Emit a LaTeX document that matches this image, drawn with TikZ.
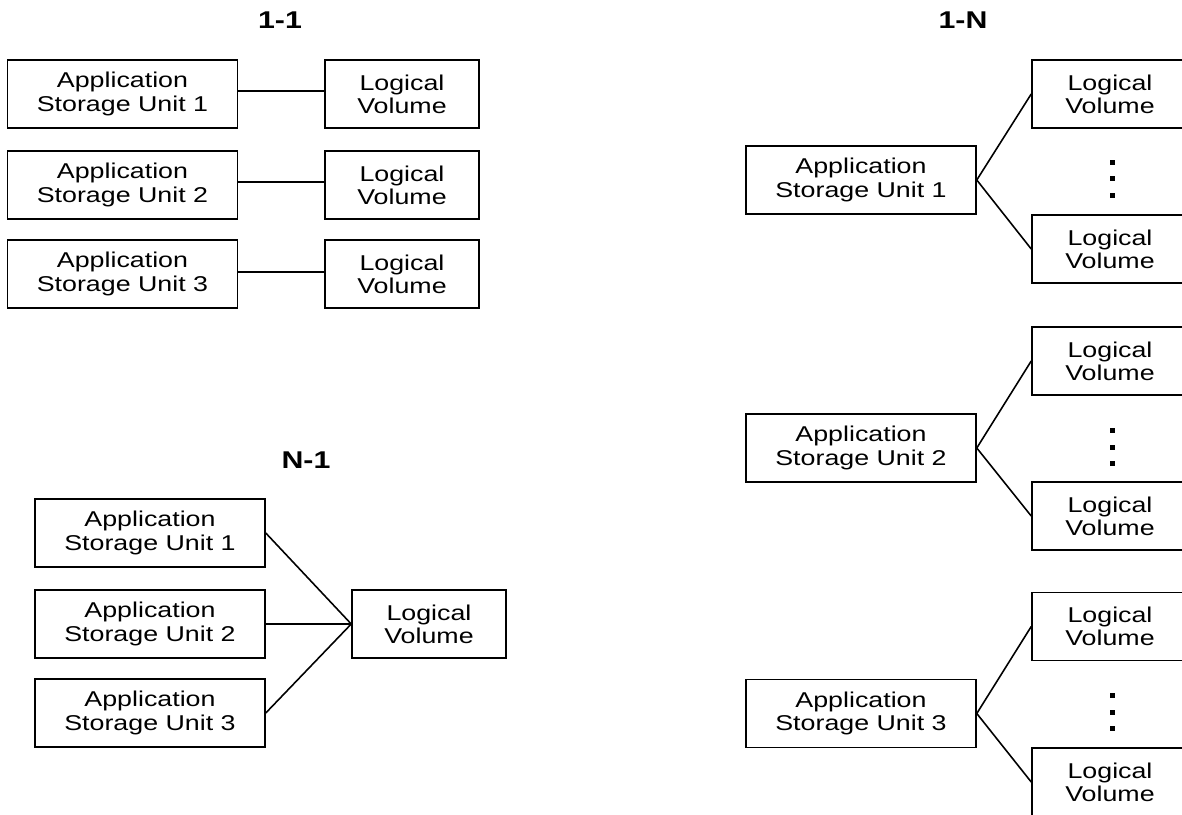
\documentclass[tikz,border=0pt]{standalone}
\usepackage{fontspec}
\setmainfont[FakeStretch=1.25]{Liberation Sans}
\begin{document}
\begin{tikzpicture}[x=0.02cm,y=-0.02cm,
  box/.style={draw, line width=0.9pt, inner sep=0pt, align=center,
    minimum height=1.36cm, font=\fontsize{12.2}{13.2}\selectfont},
  app/.style={box, minimum width=4.6cm},
  lv/.style={box, minimum width=3.08cm},
  lvn/.style={box, minimum width=3.12cm},
  ttl/.style={font=\fontsize{13.8}{15}\selectfont\bfseries, inner sep=0pt},
  link/.style={line width=0.9pt}]
\useasboundingbox (0,0) rectangle (1182,814);
\clip (0,0) rectangle (1182,814);
% ---- 1-1 ----
\node[ttl] (t11) at (280,20) {1-1};
\node[app] (a1) at (122.5,94) {Application\\Storage Unit 1};
\node[app] (a2) at (122.5,185) {Application\\Storage Unit 2};
\node[app] (a3) at (122.5,274) {Application\\Storage Unit 3};
\node[lv] (l1) at (402,94) {Logical\\Volume};
\node[lv] (l2) at (402,185) {Logical\\Volume};
\node[lv] (l3) at (402,274) {Logical\\Volume};
\draw[link] ([yshift=1.8pt]a1.east) -- ([yshift=1.8pt]l1.west);
\draw[link] ([yshift=1.7pt]a2.east) -- ([yshift=1.7pt]l2.west);
\draw[link] ([yshift=1.1pt]a3.east) -- ([yshift=1.1pt]l3.west);
% ---- N-1 ----
\node[ttl] (tn1) at (306,460) {N-1};
\node[app] (c1) at (150,533) {Application\\Storage Unit 1};
\node[app] (c2) at (150,624) {Application\\Storage Unit 2};
\node[app] (c3) at (150,713) {Application\\Storage Unit 3};
\node[lv] (cl) at (429,624) {Logical\\Volume};
\draw[link] (c1.east) -- (cl.west);
\draw[link] (c2.east) -- (cl.west);
\draw[link] (c3.east) -- (cl.west);
% ---- 1-N ----
\node[ttl] (t1n) at (963,20) {1-N};
\node[app] (b1) at (861,180) {Application\\Storage Unit 1};
\node[lvn] (b1u) at (1110,94) {Logical\\Volume};
\node[lvn] (b1d) at (1110,249) {Logical\\Volume};
\draw[link] (b1u.west) -- (b1.east) -- (b1d.west);
\node[app] (b2) at (861,448) {Application\\Storage Unit 2};
\node[lvn] (b2u) at (1110,361) {Logical\\Volume};
\node[lvn] (b2d) at (1110,516) {Logical\\Volume};
\draw[link] (b2u.west) -- (b2.east) -- (b2d.west);
\node[app] (b3) at (861,713.5) {Application\\Storage Unit 3};
\node[lvn] (b3u) at (1110,626.5) {Logical\\Volume};
\node[lvn] (b3d) at (1110,782) {Logical\\Volume};
\draw[link] (b3u.west) -- (b3.east) -- (b3d.west);
% vertical dots
\foreach \cy in {179,447,712}{
  \foreach \k in {-1,0,1}{
    \fill (1109.5,\cy+16.5*\k-2.5) rectangle ++(5,5);
  }
}
\end{tikzpicture}
\end{document}
